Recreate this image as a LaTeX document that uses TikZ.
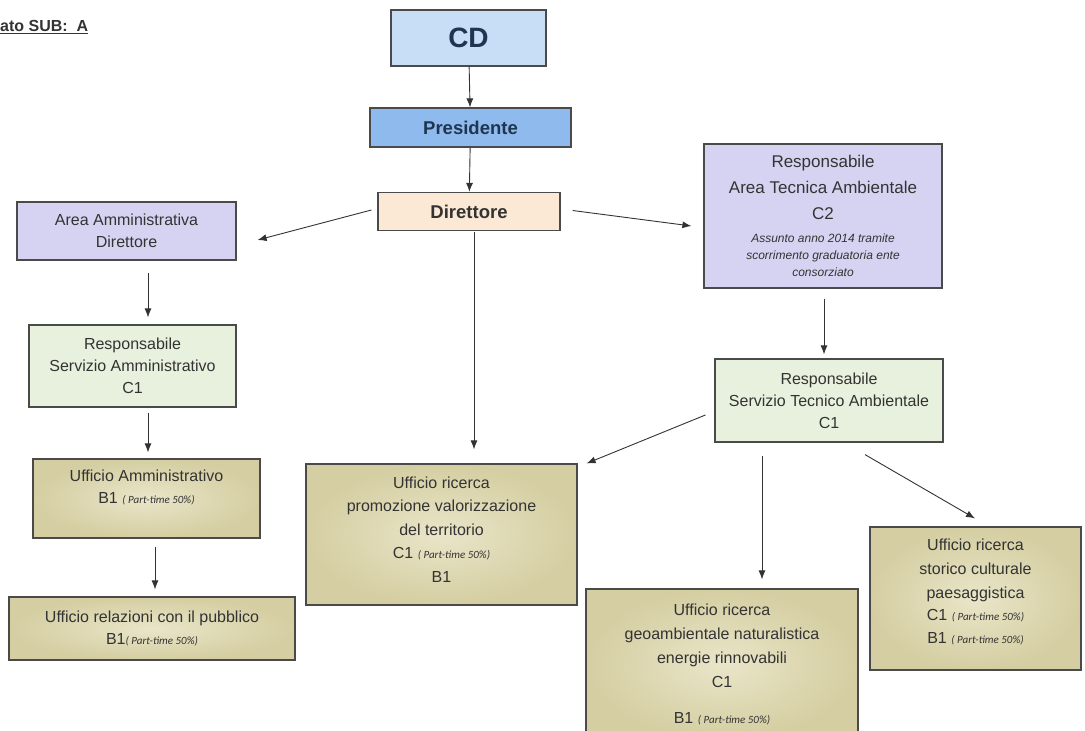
\documentclass[tikz,border=0pt]{standalone}
\usepackage{fontspec}
\setmainfont{Liberation Sans}
\newfontfamily\calibfont{Carlito}
\usetikzlibrary{arrows.meta}

\definecolor{txt}{HTML}{333333}
\definecolor{navy}{HTML}{1F3550}
\definecolor{boxline}{HTML}{4A4A4A}
\definecolor{cdblue}{HTML}{C8DDF6}
\definecolor{presblue}{HTML}{8FBAEE}
\definecolor{dirpeach}{HTML}{FCE9D5}
\definecolor{lavender}{HTML}{D6D3F2}
\definecolor{paleg}{HTML}{E8F1DE}
\definecolor{khakiin}{HTML}{E9E5C8}
\definecolor{khakiout}{HTML}{D5CEA2}

\newcommand{\parttime}{{\calibfont\itshape\fontsize{11}{12}\selectfont ( Part-time 50\%)}}
\newcommand{\nota}[1]{{\itshape\fontsize{12}{14}\selectfont #1}}

\tikzset{
  box/.style={draw=boxline, line width=1.2pt, align=center, inner sep=2pt,
    text=txt, font=\fontsize{16}{22}\selectfont},
  top/.style={box, text=navy, font=\bfseries\fontsize{18.5}{20}\selectfont},
  uff/.style={box, inner color=khakiin, outer color=khakiout},
  arr/.style={-{Latex[length=9pt,width=7pt]}, draw=txt, line width=0.9pt}
}

\begin{document}
\begin{tikzpicture}[x=1pt,y=-1pt]
\useasboundingbox (0,0) rectangle (1085,731);

\node[anchor=west, inner sep=0pt, text=txt, font=\bfseries\fontsize{16}{18}\selectfont] (sub) at (0,27) {\underline{ato SUB:\ \ A}};

% vertice
\node[top, fill=cdblue, font=\bfseries\fontsize{28}{30}\selectfont, minimum width=155, minimum height=56] (cd) at (468.5,38) {CD};
\node[top, fill=presblue, minimum width=201, minimum height=39] (pres) at (470.5,127.5) {Presidente};
\node[top, fill=dirpeach, text=txt, minimum width=182, minimum height=38] (dir) at (469,211.5) {Direttore};

% aree
\node[box, fill=lavender, minimum width=219, minimum height=58] (areaamm) at (126.5,231) {Area Amministrativa\\Direttore};
\node[box, fill=lavender, minimum width=238, minimum height=144, font=\fontsize{17}{26}\selectfont] (areatec) at (823,216)
  {Responsabile\\Area Tecnica Ambientale\\C2\\[-3pt]\nota{Assunto anno 2014 tramite}\\[-9pt]\nota{scorrimento graduatoria ente}\\[-9pt]\nota{consorziato}};

% servizi
\node[box, fill=paleg, minimum width=207, minimum height=82] (servamm) at (132.5,366) {Responsabile\\Servizio Amministrativo\\C1};
\node[box, fill=paleg, minimum width=228, minimum height=83] (servtec) at (829,400.5) {Responsabile\\Servizio Tecnico Ambientale\\C1};

% uffici
\node[uff, minimum width=227, minimum height=79] (uffamm) at (146.5,498.5) {Ufficio Amministrativo\\B1 \parttime\rule[-24pt]{0pt}{0pt}};
\node[uff, minimum width=286, minimum height=63] (uffrel) at (152,628.5) {Ufficio relazioni con il pubblico\\B1\parttime};
\node[uff, minimum width=271, minimum height=141, font=\fontsize{16}{23.5}\selectfont] (uffprom) at (441.5,534.5)
  {Ufficio ricerca\\promozione valorizzazione\\del territorio\\C1 \parttime\\B1\rule[-10pt]{0pt}{0pt}};
\node[uff, minimum width=272, minimum height=150, font=\fontsize{16}{24}\selectfont] (uffgeo) at (722,664)
  {Ufficio ricerca\\geoambientale naturalistica\\energie rinnovabili\\C1\\[12pt]B1 \parttime};
\node[uff, minimum width=211, minimum height=143, font=\fontsize{16}{24}\selectfont] (uffsto) at (975.5,598.5)
  {Ufficio ricerca\\storico culturale\\paesaggistica\\[-2pt]C1 \parttime\\[-1pt]B1 \parttime\rule[-14pt]{0pt}{0pt}};

% collegamenti
\draw[arr] (cd) -- (pres);
\draw[arr] (pres) -- (dir);
\draw[arr] ([shift={(-6,-1.5)}]dir.west) -- ([shift={(21,9)}]areaamm.east);
\draw[arr] ([shift={(12,-1)}]dir.east) -- ([shift={(-12,10)}]areatec.west);
\draw[arr] ([shift={(5,1)}]dir.south) -- ([shift={(32.5,-14)}]uffprom.north);
\draw[arr] ([shift={(21.5,12)}]areaamm.south) -- ([shift={(15.5,-7)}]servamm.north);
\draw[arr] ([shift={(15.5,5)}]servamm.south) -- ([shift={(1.5,-6)}]uffamm.north);
\draw[arr] ([shift={(8.5,8)}]uffamm.south) -- ([shift={(3,-7)}]uffrel.north);
\draw[arr] ([shift={(1,10)}]areatec.south) -- ([shift={(-5,-4)}]servtec.north);
\draw[arr] ([shift={(-9,14.5)}]servtec.west) -- ([shift={(9,0)}]uffprom.north east);
\draw[arr] ([shift={(-67,13)}]servtec.south) -- ([shift={(40,-9)}]uffgeo.north);
\draw[arr] ([shift={(36,12)}]servtec.south) -- ([shift={(-0.5,-8)}]uffsto.north);
\end{tikzpicture}
\end{document}
